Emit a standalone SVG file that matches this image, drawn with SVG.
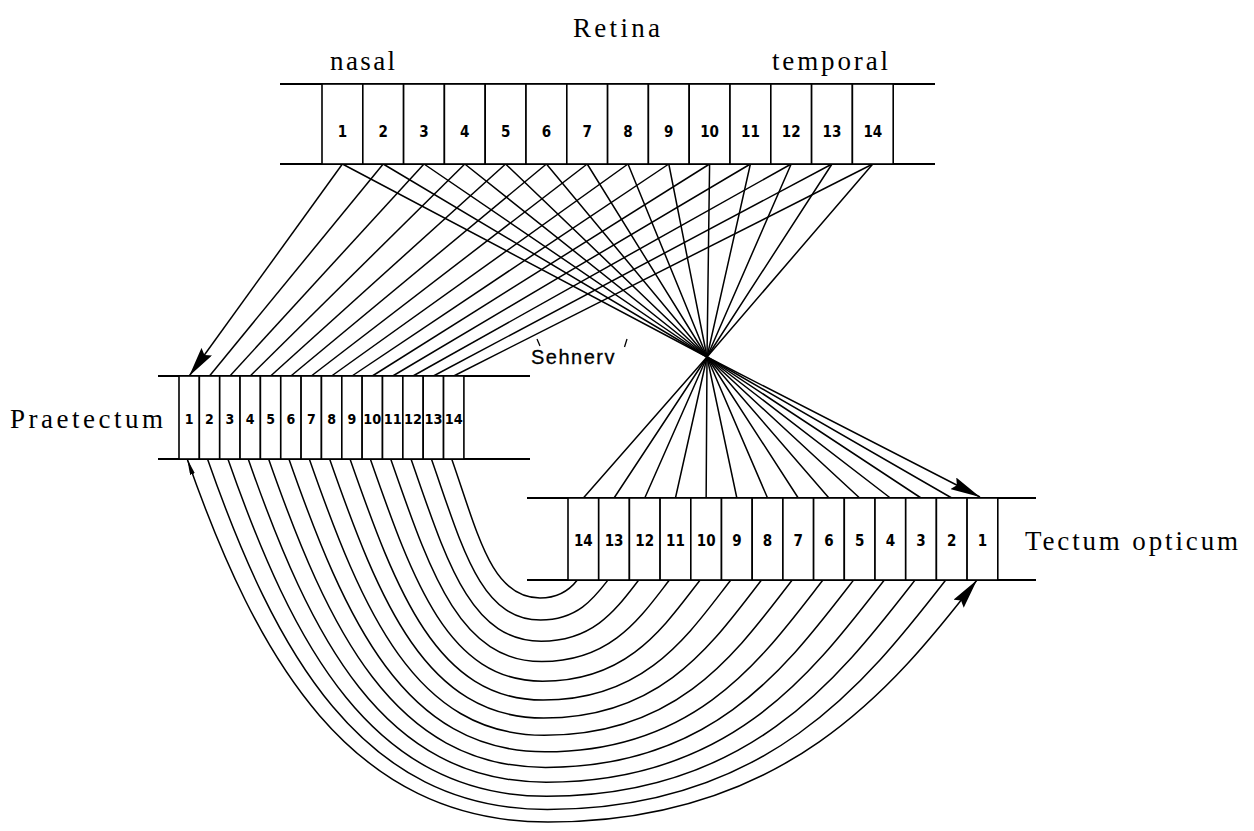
<svg xmlns="http://www.w3.org/2000/svg" width="1254" height="831" viewBox="0 0 1254 831">
  <style>
    .band { stroke: #000; stroke-width: 2; fill: none; }
    .cell { fill: #fff; stroke: #000; stroke-width: 1.6; }
    .fiber { stroke: #000; stroke-width: 1.5; fill: none; }
    .num { font-family: "DejaVu Sans Condensed", "Liberation Sans Narrow", "Liberation Sans", sans-serif; font-stretch: condensed; font-weight: bold; font-size: 15px; text-anchor: middle; fill: #000; }
    .num.small { font-size: 14px; }
    .title { font-family: "Liberation Serif", serif; font-size: 27px; fill: #000; }
    .nerve { font-family: "Liberation Sans", sans-serif; font-size: 20px; letter-spacing: 1.5px; fill: #000; stroke: #000; stroke-width: 0.3; }
  </style>
  <defs>
    <marker id="arrow" viewBox="0 0 30 13" refX="30" refY="6.5" markerWidth="30" markerHeight="13" markerUnits="userSpaceOnUse" orient="auto">
      <path d="M0,0 L30,6.5 L0,13 L4,6.5 z" fill="#000"/>
    </marker>
    <marker id="thin" viewBox="0 0 16 5" refX="16" refY="2.5" markerWidth="16" markerHeight="5" markerUnits="userSpaceOnUse" orient="auto-start-reverse">
      <path d="M0,0 L16,2.5 L0,5 z" fill="#000"/>
    </marker>
  </defs>

  <rect width="1254" height="831" fill="#fff"/>

  <!-- labels -->
  <text class="title" x="573" y="37" textLength="87" lengthAdjust="spacing">Retina</text>
  <text class="title" x="330" y="70" textLength="65" lengthAdjust="spacing">nasal</text>
  <text class="title" x="772" y="70" textLength="116" lengthAdjust="spacing">temporal</text>
  <text class="title" x="10" y="428" textLength="153" lengthAdjust="spacing">Praetectum</text>
  <text class="title" x="1025" y="550" textLength="213" lengthAdjust="spacing">Tectum opticum</text>
  <g id="sehnerv">
    <text class="nerve" x="531" y="364">Sehnerv</text>
    <line x1="537" y1="339" x2="540" y2="346" stroke="#000" stroke-width="1.3"/>
    <line x1="627" y1="339" x2="624.5" y2="347" stroke="#000" stroke-width="1.3"/>
  </g>

  <!-- connectors -->
  <g id="connectors">
    <!-- retina to praetectum -->
    <g id="retina-praetectum">
      <line class="fiber" x1="342.4" y1="164" x2="189.2" y2="376" marker-end="url(#arrow)"/>
      <line class="fiber" x1="383.2" y1="164" x2="209.5" y2="376"/>
      <line class="fiber" x1="424.0" y1="164" x2="229.9" y2="376"/>
      <line class="fiber" x1="464.8" y1="164" x2="250.2" y2="376"/>
      <line class="fiber" x1="505.6" y1="164" x2="270.6" y2="376"/>
      <line class="fiber" x1="546.4" y1="164" x2="290.9" y2="376"/>
      <line class="fiber" x1="587.2" y1="164" x2="311.3" y2="376"/>
      <line class="fiber" x1="628.0" y1="164" x2="331.6" y2="376"/>
      <line class="fiber" x1="668.8" y1="164" x2="352.0" y2="376"/>
      <line class="fiber" x1="709.6" y1="164" x2="372.3" y2="376"/>
      <line class="fiber" x1="750.4" y1="164" x2="392.7" y2="376"/>
      <line class="fiber" x1="791.2" y1="164" x2="413.0" y2="376"/>
      <line class="fiber" x1="832.0" y1="164" x2="433.4" y2="376"/>
      <line class="fiber" x1="872.8" y1="164" x2="453.7" y2="376"/>
    </g>
    <!-- retina through the optic nerve crossing to tectum -->
    <g id="retina-tectum">
      <polyline class="fiber" points="342.4,164 707,357 980,497" marker-end="url(#arrow)"/>
      <polyline class="fiber" points="383.2,164 707,357 951.75,498"/>
      <polyline class="fiber" points="424.0,164 707,357 921.05,498"/>
      <polyline class="fiber" points="464.8,164 707,357 890.35,498"/>
      <polyline class="fiber" points="505.6,164 707,357 859.65,498"/>
      <polyline class="fiber" points="546.4,164 707,357 828.95,498"/>
      <polyline class="fiber" points="587.2,164 707,357 798.25,498"/>
      <polyline class="fiber" points="628.0,164 707,357 767.55,498"/>
      <polyline class="fiber" points="668.8,164 707,357 736.85,498"/>
      <polyline class="fiber" points="709.6,164 707,357 706.15,498"/>
      <polyline class="fiber" points="750.4,164 707,357 675.45,498"/>
      <polyline class="fiber" points="791.2,164 707,357 644.75,498"/>
      <polyline class="fiber" points="832.0,164 707,357 614.05,498"/>
      <polyline class="fiber" points="872.8,164 707,357 583.35,498"/>
    </g>
    <!-- praetectum to tectum arcs -->
    <g id="praetectum-tectum">
      <path class="fiber" d="M187.2,459 C257.1,658.7 349.6,822 548,822 C784,822 892.3,688.9 977,580" marker-start="url(#thin)" marker-end="url(#arrow)"/>
      <path class="fiber" d="M207.5,459 C275,651.8 360.5,809.5 547.4,809.5 C766.5,809.5 865.4,683.3 945.75,580"/>
      <path class="fiber" d="M227.9,459 C292.8,644.5 371.4,796.3 546.8,796.3 C749.3,796.3 839.3,677.3 915.05,580"/>
      <path class="fiber" d="M248.2,459 C310.4,636.8 382.3,782.2 546.2,782.2 C732.2,782.2 813.6,671 884.35,580"/>
      <path class="fiber" d="M268.6,459 C328,628.6 393.2,767.4 545.5,767.4 C715,767.4 788,664.3 853.65,580"/>
      <path class="fiber" d="M288.9,459 C345.3,620 404.1,751.8 544.9,751.8 C697.8,751.8 762.8,657.3 822.95,580"/>
      <path class="fiber" d="M309.3,459 C362.5,611 415,735.3 544.3,735.3 C680.7,735.3 737.9,649.9 792.25,580"/>
      <path class="fiber" d="M329.6,459 C379.5,601.5 425.9,718.1 543.7,718.1 C663.5,718.1 713.2,642.1 761.55,580"/>
      <path class="fiber" d="M350,459 C396.4,591.6 436.9,700.1 543.1,700.1 C646.4,700.1 688.8,634 730.85,580"/>
      <path class="fiber" d="M370.3,459 C413.1,581.2 447.8,681.2 542.5,681.2 C629.2,681.2 664.7,625.5 700.15,580"/>
      <path class="fiber" d="M390.7,459 C429.7,570.4 458.7,661.6 541.8,661.6 C612,661.6 640.9,616.7 669.45,580"/>
      <path class="fiber" d="M411,459 C446.1,559.2 469.6,641.2 541.2,641.2 C594.9,641.2 617.3,607.5 638.75,580"/>
      <path class="fiber" d="M431.4,459 C462.4,547.6 480.5,620 540.6,620 C577.7,620 594.1,598 608.05,580"/>
      <path class="fiber" d="M451.7,459 C478.5,535.5 491.4,598 540,598 C560.5,598 571.1,588.1 577.35,580"/>
    </g>
  </g>

  <!-- Retina strip -->
  <g id="retina">
    <line class="band" x1="280" y1="84" x2="935" y2="84"/>
    <line class="band" x1="280" y1="164" x2="935" y2="164"/>
    <g id="r1"><rect class="cell" x="322" y="84" width="40.8" height="80"/><text class="num" x="342.4" y="137">1</text></g>
    <g id="r2"><rect class="cell" x="362.8" y="84" width="40.8" height="80"/><text class="num" x="383.2" y="137">2</text></g>
    <g id="r3"><rect class="cell" x="403.6" y="84" width="40.8" height="80"/><text class="num" x="424" y="137">3</text></g>
    <g id="r4"><rect class="cell" x="444.4" y="84" width="40.8" height="80"/><text class="num" x="464.8" y="137">4</text></g>
    <g id="r5"><rect class="cell" x="485.2" y="84" width="40.8" height="80"/><text class="num" x="505.6" y="137">5</text></g>
    <g id="r6"><rect class="cell" x="526" y="84" width="40.8" height="80"/><text class="num" x="546.4" y="137">6</text></g>
    <g id="r7"><rect class="cell" x="566.8" y="84" width="40.8" height="80"/><text class="num" x="587.2" y="137">7</text></g>
    <g id="r8"><rect class="cell" x="607.6" y="84" width="40.8" height="80"/><text class="num" x="628" y="137">8</text></g>
    <g id="r9"><rect class="cell" x="648.4" y="84" width="40.8" height="80"/><text class="num" x="668.8" y="137">9</text></g>
    <g id="r10"><rect class="cell" x="689.2" y="84" width="40.8" height="80"/><text class="num" x="709.6" y="137">10</text></g>
    <g id="r11"><rect class="cell" x="730" y="84" width="40.8" height="80"/><text class="num" x="750.4" y="137">11</text></g>
    <g id="r12"><rect class="cell" x="770.8" y="84" width="40.8" height="80"/><text class="num" x="791.2" y="137">12</text></g>
    <g id="r13"><rect class="cell" x="811.6" y="84" width="40.8" height="80"/><text class="num" x="832" y="137">13</text></g>
    <g id="r14"><rect class="cell" x="852.4" y="84" width="40.8" height="80"/><text class="num" x="872.8" y="137">14</text></g>
  </g>

  <!-- Praetectum strip -->
  <g id="praetectum">
    <line class="band" x1="158" y1="376" x2="530" y2="376"/>
    <line class="band" x1="158" y1="459" x2="530" y2="459"/>
    <g id="p1"><rect class="cell" x="179" y="376" width="20.35" height="83"/><text class="num small" x="189.2" y="424">1</text></g>
    <g id="p2"><rect class="cell" x="199.35" y="376" width="20.35" height="83"/><text class="num small" x="209.5" y="424">2</text></g>
    <g id="p3"><rect class="cell" x="219.7" y="376" width="20.35" height="83"/><text class="num small" x="229.9" y="424">3</text></g>
    <g id="p4"><rect class="cell" x="240.05" y="376" width="20.35" height="83"/><text class="num small" x="250.2" y="424">4</text></g>
    <g id="p5"><rect class="cell" x="260.4" y="376" width="20.35" height="83"/><text class="num small" x="270.6" y="424">5</text></g>
    <g id="p6"><rect class="cell" x="280.75" y="376" width="20.35" height="83"/><text class="num small" x="290.9" y="424">6</text></g>
    <g id="p7"><rect class="cell" x="301.1" y="376" width="20.35" height="83"/><text class="num small" x="311.3" y="424">7</text></g>
    <g id="p8"><rect class="cell" x="321.45" y="376" width="20.35" height="83"/><text class="num small" x="331.6" y="424">8</text></g>
    <g id="p9"><rect class="cell" x="341.8" y="376" width="20.35" height="83"/><text class="num small" x="352" y="424">9</text></g>
    <g id="p10"><rect class="cell" x="362.15" y="376" width="20.35" height="83"/><text class="num small" x="372.3" y="424" textLength="18" lengthAdjust="spacingAndGlyphs">10</text></g>
    <g id="p11"><rect class="cell" x="382.5" y="376" width="20.35" height="83"/><text class="num small" x="392.7" y="424" textLength="18" lengthAdjust="spacingAndGlyphs">11</text></g>
    <g id="p12"><rect class="cell" x="402.85" y="376" width="20.35" height="83"/><text class="num small" x="413" y="424" textLength="18" lengthAdjust="spacingAndGlyphs">12</text></g>
    <g id="p13"><rect class="cell" x="423.2" y="376" width="20.35" height="83"/><text class="num small" x="433.4" y="424" textLength="18" lengthAdjust="spacingAndGlyphs">13</text></g>
    <g id="p14"><rect class="cell" x="443.55" y="376" width="20.35" height="83"/><text class="num small" x="453.7" y="424" textLength="18" lengthAdjust="spacingAndGlyphs">14</text></g>
  </g>

  <!-- Tectum opticum strip (reversed order) -->
  <g id="tectum">
    <line class="band" x1="527" y1="498" x2="1036" y2="498"/>
    <line class="band" x1="527" y1="580" x2="1036" y2="580"/>
    <g id="t14"><rect class="cell" x="568" y="498" width="30.7" height="82"/><text class="num" x="583.35" y="546">14</text></g>
    <g id="t13"><rect class="cell" x="598.7" y="498" width="30.7" height="82"/><text class="num" x="614.05" y="546">13</text></g>
    <g id="t12"><rect class="cell" x="629.4" y="498" width="30.7" height="82"/><text class="num" x="644.75" y="546">12</text></g>
    <g id="t11"><rect class="cell" x="660.1" y="498" width="30.7" height="82"/><text class="num" x="675.45" y="546">11</text></g>
    <g id="t10"><rect class="cell" x="690.8" y="498" width="30.7" height="82"/><text class="num" x="706.15" y="546">10</text></g>
    <g id="t9"><rect class="cell" x="721.5" y="498" width="30.7" height="82"/><text class="num" x="736.85" y="546">9</text></g>
    <g id="t8"><rect class="cell" x="752.2" y="498" width="30.7" height="82"/><text class="num" x="767.55" y="546">8</text></g>
    <g id="t7"><rect class="cell" x="782.9" y="498" width="30.7" height="82"/><text class="num" x="798.25" y="546">7</text></g>
    <g id="t6"><rect class="cell" x="813.6" y="498" width="30.7" height="82"/><text class="num" x="828.95" y="546">6</text></g>
    <g id="t5"><rect class="cell" x="844.3" y="498" width="30.7" height="82"/><text class="num" x="859.65" y="546">5</text></g>
    <g id="t4"><rect class="cell" x="875" y="498" width="30.7" height="82"/><text class="num" x="890.35" y="546">4</text></g>
    <g id="t3"><rect class="cell" x="905.7" y="498" width="30.7" height="82"/><text class="num" x="921.05" y="546">3</text></g>
    <g id="t2"><rect class="cell" x="936.4" y="498" width="30.7" height="82"/><text class="num" x="951.75" y="546">2</text></g>
    <g id="t1"><rect class="cell" x="967.1" y="498" width="30.7" height="82"/><text class="num" x="982.45" y="546">1</text></g>
  </g>
</svg>
